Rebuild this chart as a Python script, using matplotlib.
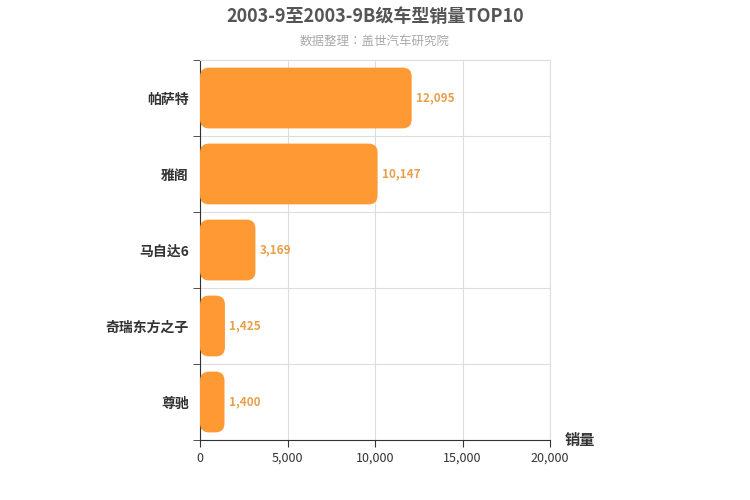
import matplotlib
matplotlib.use("Agg")
import matplotlib.pyplot as plt
from matplotlib.patches import FancyBboxPatch

plt.rcParams["font.family"] = ["Noto Sans CJK SC", "Noto Sans CJK JP", "Noto Sans CJK TC",
                               "Noto Sans CJK KR", "DejaVu Sans"]

categories = ["帕萨特", "雅阁", "马自达6", "奇瑞东方之子", "尊驰"]
values = [12095, 10147, 3169, 1425, 1400]
xticks = [0, 5000, 10000, 15000, 20000]

fig = plt.figure(figsize=(7.5, 5), dpi=100)
ax = fig.add_axes([200/750, 60/500, 350/750, 380/500])
n = len(categories)
ax.set_xlim(0, 20000)
ax.set_ylim(n - 0.5, -0.5)
xpp = 20000 / 350
ypp = n / 380
for i, v in enumerate(values):
    h = 0.8
    p = FancyBboxPatch((0, i - h/2), v, h,
                       boxstyle=f"round,pad=0,rounding_size={9*xpp}",
                       mutation_aspect=ypp / xpp,
                       fc="#FF9933", ec="none", zorder=3)
    ax.add_patch(p)
    ax.text(v + 250, i, f"{v:,}", va="center", ha="left", fontsize=8.5,
            color="#E8A04A", fontweight="bold", zorder=4)

ax.set_yticks(range(n))
ax.set_yticklabels(categories, fontsize=10, fontweight="bold", color="#333333")
ax.set_yticks([i - 0.5 for i in range(n + 1)], minor=True)
ax.tick_params(axis="y", which="major", length=0, pad=8)
ax.tick_params(axis="y", which="minor", length=5, color="#333333")
ax.set_xticks(xticks)
ax.set_xticklabels([f"{t:,}" for t in xticks], fontsize=9, color="#333333")
ax.tick_params(axis="x", length=5, color="#333333")
ax.grid(axis="x", color="#dddddd", lw=0.8, zorder=0)
ax.grid(axis="y", which="minor", color="#dddddd", lw=0.8, zorder=0)
for s in ["top", "right"]:
    ax.spines[s].set_color("#dddddd")
ax.spines["left"].set_color("#333333")
ax.spines["bottom"].set_color("#333333")

fig.text(0.5, 0.968, "2003-9至2003-9B级车型销量TOP10", ha="center", va="center",
         fontsize=13, fontweight="bold", color="#555555")
fig.text(0.5, 0.918, "数据整理：盖世汽车研究院", ha="center", va="center",
         fontsize=9, color="#aaaaaa")
fig.text(565/750, 1 - 440/500, "销量", ha="left", va="center", fontsize=11,
         fontweight="bold", color="#333333")
fig.savefig("out.png")
